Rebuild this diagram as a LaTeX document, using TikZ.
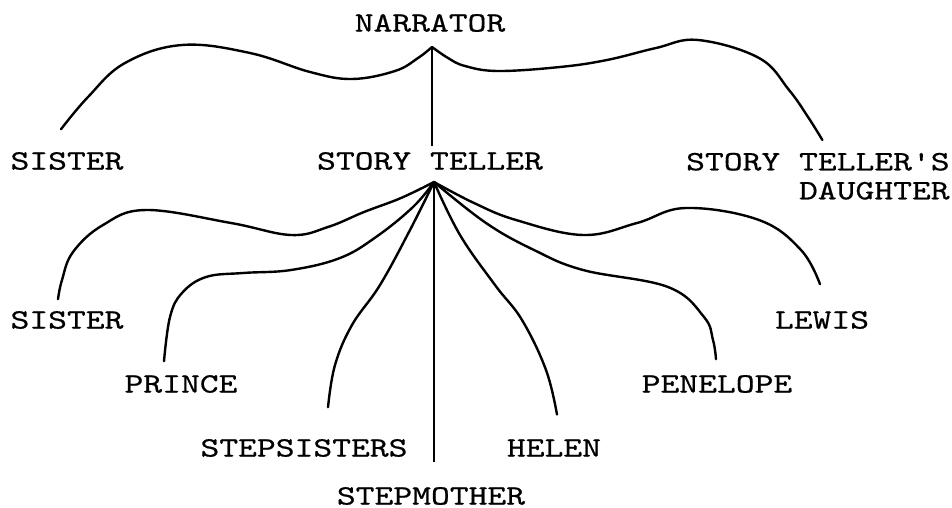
\documentclass[tikz,border=0pt]{standalone}
\usepackage{fontspec}
\usepackage{tikz}
\usetikzlibrary{calc}
\newfontfamily\typefont[Extension=.otf,FakeStretch=1.28,FakeBold=0.6]{lmmono10-regular}
\tikzset{
  lbl/.style={inner sep=0pt, font=\typefont\fontsize{14}{14.5}\selectfont},
  branch/.style={line width=1.2pt, line cap=round, line join=round},
  stem/.style={line width=0.7pt},
}

\begin{document}
\begin{tikzpicture}[x=0.5pt, y=-0.5pt]
  \useasboundingbox (0,0) rectangle (952,508);
  % ---- narrator and its three branches ----
  \node[lbl] (narrator) at (430,23) {NARRATOR};
  \node[lbl] (sister1) at (67,161) {SISTER};
  \node[lbl] (teller) at (430,161) {STORY TELLER};
  \node[lbl, align=right, anchor=north east] (daughter) at (950,152.5) {STORY TELLER'S\\DAUGHTER};
  \coordinate (nfork) at (432,47);
  \coordinate (sister1 end) at ($(sister1.north)+(-6,-22.5)$);
  \coordinate (daughter end) at ($(daughter.north)+(4.5,-12.5)$);
  \draw[branch] plot[smooth, tension=0.65] coordinates {(nfork) (418,58) (395,71) (352,79)
     (310,72) (250,53) (182,45) (125,63) (88,97) (sister1 end)};
  \draw[branch] plot[smooth, tension=0.65] coordinates {(nfork) (448,58) (465,66) (498,71)
     (560,67) (607,60) (656,48) (698,40) (759,58) (789,90) (808,117) (daughter end)};
  \draw[stem] (nfork) -- ($(nfork |- teller.north)+(0,-5.5)$);

  % ---- story teller and the story people ----
  \node[lbl] (sister2) at (67,320) {SISTER};
  \node[lbl] (prince) at (181,384) {PRINCE};
  \node[lbl] (stepsisters) at (304,448) {STEPSISTERS};
  \node[lbl] (stepmother) at (431,496) {STEPMOTHER};
  \node[lbl] (helen) at (554,448) {HELEN};
  \node[lbl] (penelope) at (717,384) {PENELOPE};
  \node[lbl] (lewis) at (822,320) {LEWIS};
  \coordinate (tfork) at (434,182);
  \coordinate (sister2 end) at ($(sister2.north)+(-9,-11.5)$);
  \coordinate (prince end) at ($(prince.north)+(-17,-13.5)$);
  \coordinate (stepsisters end) at ($(stepsisters.north)+(24,-31.5)$);
  \coordinate (helen end) at ($(helen.north)+(3,-24.5)$);
  \coordinate (penelope end) at ($(penelope.north)+(-1,-15.5)$);
  \coordinate (lewis end) at ($(lewis.north)+(-2,-26.5)$);
  \draw[branch] plot[smooth, tension=0.65] coordinates {(tfork) (401,198) (364,212) (328,227)
     (291,235) (231,223) (146,210) (103,225) (73,252) (62,280) (sister2 end)};
  \draw[branch] plot[smooth, tension=0.65] coordinates {(tfork) (413,207) (376,237) (340,258)
     (291,270) (243,273) (206,277) (182,293) (170,317) (prince end)};
  \draw[branch] plot[smooth, tension=0.65] coordinates {(tfork) (410,230) (380,285) (352,325)
     (335,365) (stepsisters end)};
  \draw[stem] (tfork) -- ($(tfork |- stepmother.north)+(0,-24.5)$);
  \draw[branch] plot[smooth, tension=0.65] coordinates {(tfork) (460,235) (495,285) (522,320)
     (546,370) (helen end)};
  \draw[branch] plot[smooth, tension=0.65] coordinates {(tfork) (486,223) (534,250) (583,270)
     (668,287) (704,317) (713,340) (penelope end)};
  \draw[branch] plot[smooth, tension=0.65] coordinates {(tfork) (474,203) (516,220) (583,235)
     (637,223) (686,208) (759,220) (801,250) (lewis end)};
\end{tikzpicture}
\end{document}
